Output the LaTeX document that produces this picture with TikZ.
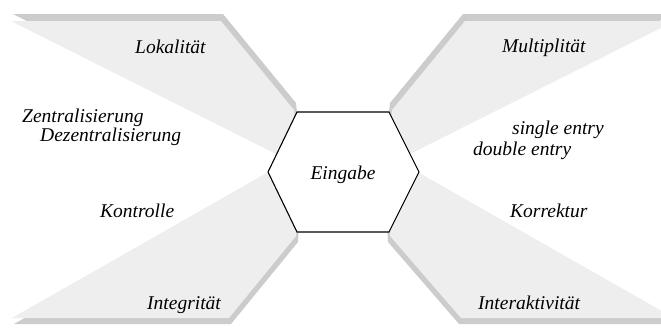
\documentclass[tikz,border=0pt]{standalone}
\usepackage{fontspec}
\setmainfont{Liberation Serif}[ItalicFont={Liberation Serif Italic}]
\newfontfamily\labelfont{Liberation Serif Italic}
\definecolor{panelfill}{HTML}{EEEEEE}
\definecolor{panelshade}{HTML}{CCCCCC}
\begin{document}
\begin{tikzpicture}[x=1pt,y=-1pt,
  panel/.style={fill=panelfill,draw=none},
  panelshadow/.style={fill=panelshade,draw=none},
  hexbox/.style={fill=white,draw=black,line width=1.1pt,line join=miter},
  label/.style={font=\labelfont\fontsize{19.5}{22}\selectfont,inner sep=0pt,anchor=base west},
]
\useasboundingbox (0,0) rectangle (661,327);
\fill[white] (0,0) rectangle (661,327);
\clip (0,0) rectangle (661,327);

% upper left panel with its raised edge
\fill[panelshadow] (13,14) -- (223,14) -- (296,103) -- (302,159) -- cycle;
\fill[panel] (11,21) -- (221,21) -- (294,110) -- (300,166) -- cycle;

% upper right panel
\fill[panelshadow] (673,14) -- (463,14) -- (390,103) -- (384,159) -- cycle;
\fill[panel] (675,21) -- (465,21) -- (392,110) -- (386,166) -- cycle;

% lower left panel
\fill[panelshadow] (14,324) -- (231,324) -- (298,242) -- (302,160) -- cycle;
\fill[panel] (12,318) -- (229,318) -- (296,236) -- (300,154) -- cycle;

% lower right panel
\fill[panelshadow] (672,324) -- (459,324) -- (388,242) -- (384,160) -- cycle;
\fill[panel] (674,318) -- (461,318) -- (390,236) -- (386,154) -- cycle;

% central hexagon
\draw[hexbox] (297,112) coordinate (h1) -- (389,112) coordinate (h2)
  -- (419,172) coordinate (h3) -- (389,232) coordinate (h4)
  -- (297,232) coordinate (h5) -- (268,172) coordinate (h6) -- cycle;
\node[label,anchor=base] (eingabe) at (343,179) {Eingabe};

% labels
\node[label] (lokal) at (135,53) {Lokalität};
\node[label] (zentral) at (22,122) {Zentralisierung};
\node[label] (dezentral) at (40,141) {Dezentralisierung};
\node[label] (kontrolle) at (100,217) {Kontrolle};
\node[label] (integ) at (147,309) {Integrität};

\node[label] (multi) at (502,52) {Multiplität};
\node[label] (single) at (512,134) {single entry};
\node[label] (double) at (473,155) {double entry};
\node[label] (korrektur) at (510,217) {Korrektur};
\node[label] (interakt) at (478,309) {Interaktivität};
\end{tikzpicture}
\end{document}
